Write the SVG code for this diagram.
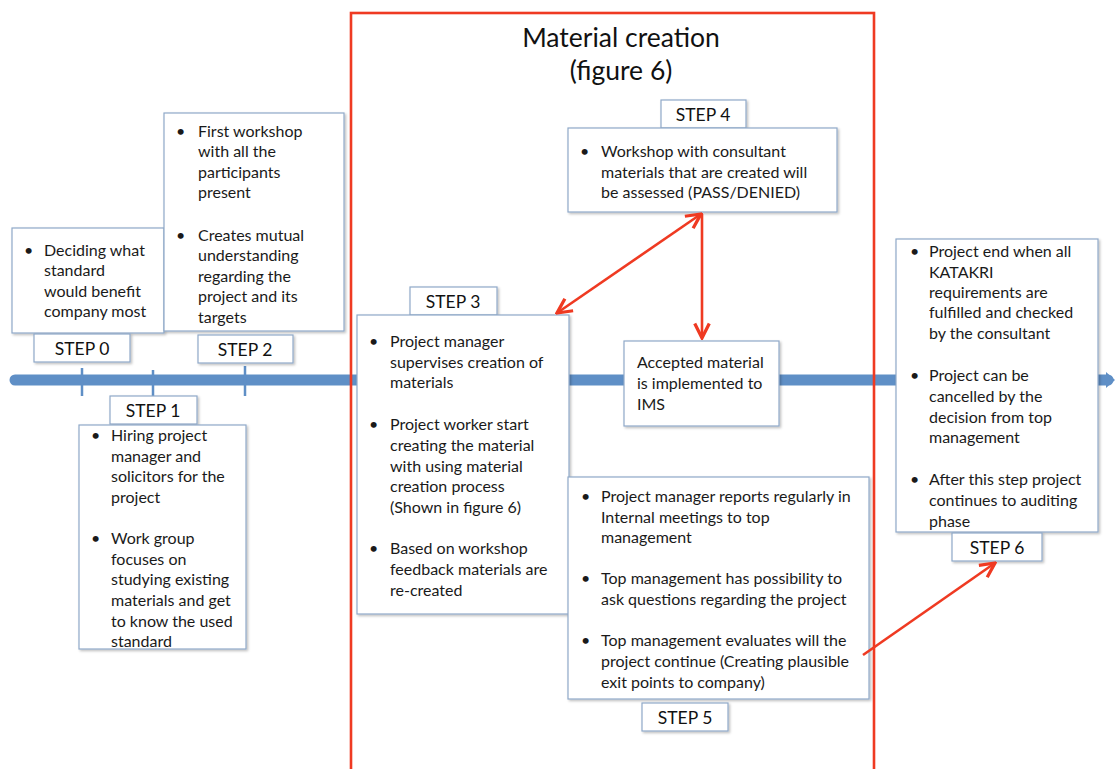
<svg xmlns="http://www.w3.org/2000/svg" width="1115" height="769" viewBox="0 0 1115 769">
  <style>
    .box { fill: #ffffff; stroke: #8fa9c9; stroke-width: 1.2; filter: url(#shadow); }
    .t { font-family: Lato, "Liberation Sans", sans-serif; font-size: 16px; fill: #1a1a1a; }
    .lbl { font-family: Lato, "Liberation Sans", sans-serif; font-size: 17.5px; fill: #111111; text-anchor: middle; }
    .title { font-family: Lato, "Liberation Sans", sans-serif; font-size: 26.5px; fill: #111111; text-anchor: middle; }
    .red { stroke: #ef3a22; stroke-width: 2.6; fill: none; }
  </style>
  <defs>
    <filter id="shadow" x="-10%" y="-10%" width="125%" height="125%">
      <feDropShadow dx="1.5" dy="1.5" stdDeviation="1" flood-color="#000000" flood-opacity="0.25"/>
    </filter>
    <marker id="ah" viewBox="0 0 10 10" refX="9" refY="5" markerWidth="7" markerHeight="7" orient="auto-start-reverse" markerUnits="strokeWidth">
      <path d="M1,1 L9,5 L1,9" fill="none" stroke="#ef3a22" stroke-width="1.8" stroke-linejoin="miter"/>
    </marker>
  </defs>
  <rect width="1115" height="769" fill="#ffffff"/>

  <!-- timeline -->
  <g id="timeline">
    <line x1="15" y1="380" x2="1108" y2="380" stroke="#5f8fc6" stroke-width="11" stroke-linecap="round"/>
    <path d="M1106,372 L1115,380 L1106,388 Z" fill="#5f8fc6"/>
    <line x1="82" y1="368" x2="82" y2="396" stroke="#5f8fc6" stroke-width="2.5"/>
    <line x1="153" y1="370" x2="153" y2="396" stroke="#5f8fc6" stroke-width="2.5"/>
    <line x1="245" y1="366" x2="245" y2="396" stroke="#5f8fc6" stroke-width="2.5"/>
  </g>

  <!-- material creation frame -->
  <g id="frame">
    <rect x="351" y="13" width="523" height="770" class="red" stroke-width="3"/>
    <text class="title" x="621" y="47">Material creation</text>
    <text class="title" x="621" y="80">(figure 6)</text>
  </g>

  <g id="step0">
    <rect class="box" x="12" y="228" width="152" height="105"/>
    <text class="t" x="24" y="256">•</text>
    <text class="t"><tspan x="44" y="256">Deciding what</tspan><tspan x="44" y="276">standard</tspan><tspan x="44" y="297">would benefit</tspan><tspan x="44" y="317">company most</tspan></text>
    <rect class="box" x="34" y="334" width="96" height="28"/>
    <text class="lbl" x="82" y="355">STEP 0</text>
  </g>

  <g id="step2">
    <rect class="box" x="164" y="113" width="180" height="218"/>
    <text class="t" x="176" y="137">•</text>
    <text class="t"><tspan x="198" y="137">First workshop</tspan><tspan x="198" y="157">with all the</tspan><tspan x="198" y="178">participants</tspan><tspan x="198" y="198">present</tspan></text>
    <text class="t" x="176" y="241">•</text>
    <text class="t"><tspan x="198" y="241">Creates mutual</tspan><tspan x="198" y="261">understanding</tspan><tspan x="198" y="282">regarding the</tspan><tspan x="198" y="302">project and its</tspan><tspan x="198" y="323">targets</tspan></text>
    <rect class="box" x="198" y="335" width="95" height="28"/>
    <text class="lbl" x="245" y="356">STEP 2</text>
  </g>

  <g id="step1">
    <rect class="box" x="110" y="396" width="87" height="28"/>
    <text class="lbl" x="153" y="417">STEP 1</text>
    <rect class="box" x="79" y="425" width="167" height="224"/>
    <text class="t" x="91" y="441">•</text>
    <text class="t"><tspan x="111" y="441">Hiring project</tspan><tspan x="111" y="462">manager and</tspan><tspan x="111" y="482">solicitors for the</tspan><tspan x="111" y="503">project</tspan></text>
    <text class="t" x="91" y="544">•</text>
    <text class="t"><tspan x="111" y="544">Work group</tspan><tspan x="111" y="565">focuses on</tspan><tspan x="111" y="585">studying existing</tspan><tspan x="111" y="606">materials and get</tspan><tspan x="111" y="627">to know the used</tspan><tspan x="111" y="647">standard</tspan></text>
  </g>

  <g id="step3">
    <rect class="box" x="410" y="287" width="87" height="28"/>
    <text class="lbl" x="453" y="308">STEP 3</text>
    <rect class="box" x="357" y="315" width="212" height="299"/>
    <text class="t" x="369" y="347">•</text>
    <text class="t"><tspan x="390" y="347">Project manager</tspan><tspan x="390" y="368">supervises creation of</tspan><tspan x="390" y="388">materials</tspan></text>
    <text class="t" x="369" y="430">•</text>
    <text class="t"><tspan x="390" y="430">Project worker start</tspan><tspan x="390" y="451">creating the material</tspan><tspan x="390" y="472">with using material</tspan><tspan x="390" y="492">creation process</tspan><tspan x="390" y="513">(Shown in figure 6)</tspan></text>
    <text class="t" x="369" y="554">•</text>
    <text class="t"><tspan x="390" y="554">Based on workshop</tspan><tspan x="390" y="575">feedback materials are</tspan><tspan x="390" y="596">re-created</tspan></text>
  </g>

  <g id="step4">
    <rect class="box" x="661" y="100" width="85" height="28"/>
    <text class="lbl" x="703" y="121">STEP 4</text>
    <rect class="box" x="568" y="128" width="269" height="84"/>
    <text class="t" x="580" y="157">•</text>
    <text class="t"><tspan x="601" y="157">Workshop with consultant</tspan><tspan x="601" y="178">materials that are created will</tspan><tspan x="601" y="198">be assessed (PASS/DENIED)</tspan></text>
  </g>

  <g id="implemented">
    <rect class="box" x="624" y="341" width="155" height="85"/>
    <text class="t"><tspan x="637" y="368">Accepted material</tspan><tspan x="637" y="389">is implemented to</tspan><tspan x="637" y="410">IMS</tspan></text>
  </g>

  <g id="step5">
    <rect class="box" x="568" y="477" width="301" height="222"/>
    <text class="t" x="581" y="502">•</text>
    <text class="t"><tspan x="601" y="502">Project manager reports regularly in</tspan><tspan x="601" y="523">Internal meetings to top</tspan><tspan x="601" y="543">management</tspan></text>
    <text class="t" x="581" y="584">•</text>
    <text class="t"><tspan x="601" y="584">Top management has possibility to</tspan><tspan x="601" y="605">ask questions regarding the project</tspan></text>
    <text class="t" x="581" y="646">•</text>
    <text class="t"><tspan x="601" y="646">Top management evaluates will the</tspan><tspan x="601" y="667">project continue (Creating plausible</tspan><tspan x="601" y="688">exit points to company)</tspan></text>
    <rect class="box" x="642" y="703" width="86" height="28"/>
    <text class="lbl" x="685" y="724">STEP 5</text>
  </g>

  <g id="step6">
    <rect class="box" x="896" y="239" width="202" height="293"/>
    <text class="t" x="910" y="257">•</text>
    <text class="t"><tspan x="929" y="257">Project end when all</tspan><tspan x="929" y="278">KATAKRI</tspan><tspan x="929" y="298">requirements are</tspan><tspan x="929" y="318">fulfilled and checked</tspan><tspan x="929" y="339">by the consultant</tspan></text>
    <text class="t" x="910" y="381">•</text>
    <text class="t"><tspan x="929" y="381">Project can be</tspan><tspan x="929" y="402">cancelled by the</tspan><tspan x="929" y="423">decision from top</tspan><tspan x="929" y="443">management</tspan></text>
    <text class="t" x="910" y="485">•</text>
    <text class="t"><tspan x="929" y="485">After this step project</tspan><tspan x="929" y="506">continues to auditing</tspan><tspan x="929" y="527">phase</tspan></text>
    <rect class="box" x="952" y="533" width="90" height="28"/>
    <text class="lbl" x="997" y="554">STEP 6</text>
  </g>

  <!-- connectors -->
  <g id="connectors">
    <line class="red" x1="701" y1="214" x2="557" y2="313" marker-start="url(#ah)" marker-end="url(#ah)"/>
    <line class="red" x1="702" y1="214" x2="702" y2="338" marker-end="url(#ah)"/>
    <line class="red" x1="863" y1="655" x2="995" y2="563" marker-end="url(#ah)"/>
  </g>
</svg>
